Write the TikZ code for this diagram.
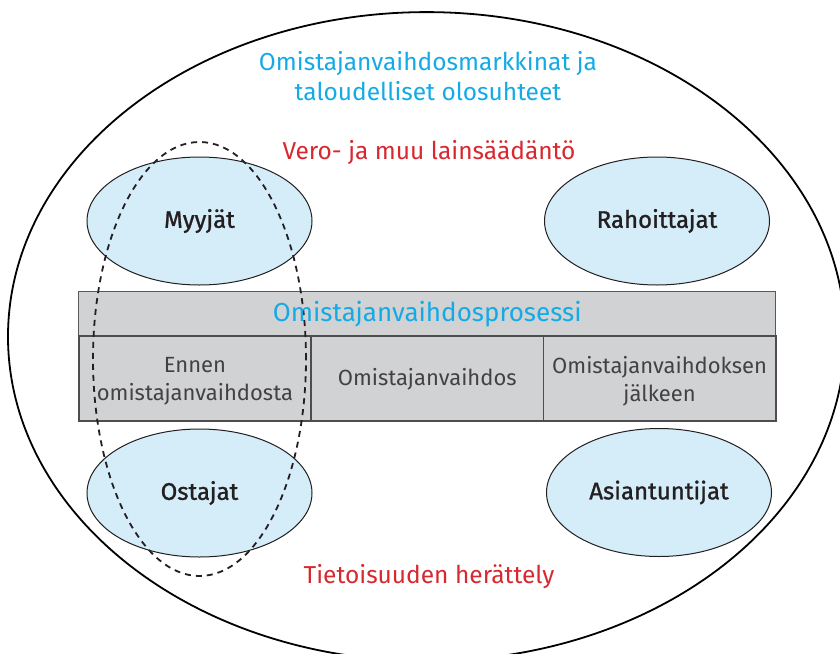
\documentclass[tikz,border=0pt]{standalone}
\usepackage{fontspec}
\setmainfont{Fira Sans}
\newfontfamily\medfont[FakeBold=1.2]{Fira Sans}
\usetikzlibrary{shapes.geometric}
\definecolor{cyanT}{HTML}{14AAE6}
\definecolor{redT}{HTML}{D7282F}
\definecolor{bubble}{HTML}{D5ECF9}
\definecolor{cellgray}{HTML}{D1D2D4}
\definecolor{darkT}{HTML}{231F20}
\tikzset{
  outerell/.style={draw=black, line width=1.8pt, ellipse, inner sep=0pt},
  actor/.style={draw=darkT, line width=1pt, fill=bubble, ellipse, inner sep=0pt,
    minimum width=225pt, minimum height=128pt, font=\fontsize{24}{28}\medfont, text=darkT},
  groupell/.style={draw=darkT, line width=1.8pt, dash pattern=on 6pt off 5pt, ellipse, inner sep=0pt},
  headcell/.style={draw=gray!70!black, line width=1.4pt, fill=cellgray, anchor=north west, inner sep=0pt,
    minimum width=697pt, minimum height=44pt},
  phasecell/.style={draw=darkT!80, line width=1.5pt, fill=cellgray, anchor=north west, inner sep=0pt,
    minimum width=232.33pt, minimum height=85pt},
  phasetext/.style={align=center, text=darkT!85, font=\fontsize{22}{28}\selectfont},
  bluetext/.style={align=center, text=cyanT, font=\fontsize{24.5}{30}\selectfont},
  headtext/.style={align=center, text=cyanT, font=\fontsize{26}{30}\selectfont},
  redtext/.style={align=center, text=redT, font=\fontsize{24.5}{28}\selectfont},
}
\begin{document}
\begin{tikzpicture}[x=1pt,y=-1pt]
\useasboundingbox (0,0) rectangle (840,653);
\clip (0,0) rectangle (840,653);
\node[outerell, minimum width=837pt, minimum height=649pt] (outer) at (426.5,336.6) {};
\node[actor] (myy) at (199.5,221) {Myyjät};
\node[actor] (rah) at (657,221) {Rahoittajat};
\node[actor] (ost) at (199.5,493) {Ostajat};
\node[actor] (asi) at (659,492.5) {Asiantuntijat};
\node[headcell] (head) at (78,291) {};
\node[phasecell] (c1) at (78,335) {};
\node[phasecell] (c2) at (310.33,335) {};
\node[phasecell] (c3) at (542.67,335) {};
\node[groupell, minimum width=213pt, minimum height=434pt] (grp) at (199.5,359) {};
\node[headtext] (headt) at (head.center) {Omistajanvaihdosprosessi};
\node[phasetext] (t1) at ([yshift=-3pt]c1.center) {Ennen\\omistajanvaihdosta};
\node[phasetext] (t2) at ([yshift=-1pt]c2.center) {Omistajanvaihdos};
\node[phasetext] (t3) at ([yshift=-3pt]c3.center) {Omistajanvaihdoksen\\jälkeen};
\node[bluetext] (market) at (428,76) {Omistajanvaihdosmarkkinat ja\\taloudelliset olosuhteet};
\node[redtext] (law) at (429,153) {Vero- ja muu lainsäädäntö};
\node[redtext] (aware) at (429,577) {Tietoisuuden herättely};
\end{tikzpicture}
\end{document}
